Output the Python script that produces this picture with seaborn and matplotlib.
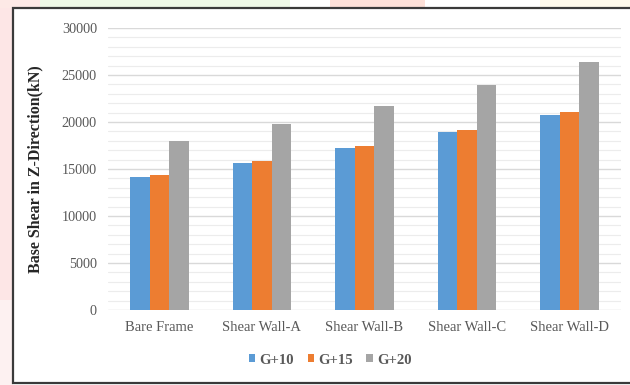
import numpy as np
import pandas as pd
import matplotlib
matplotlib.use("Agg")
import matplotlib.pyplot as plt
from matplotlib.patches import Rectangle
from matplotlib.ticker import MultipleLocator
import seaborn as sns

# Base shear values (kN) per structural configuration and building height
categories = ["Bare Frame", "Shear Wall-A", "Shear Wall-B", "Shear Wall-C", "Shear Wall-D"]
series_names = ["G+10", "G+15", "G+20"]
g10 = [14200, 15600, 17200, 18900, 20700]
g15 = [14400, 15800, 17400, 19100, 21100]
g20 = [18000, 19800, 21700, 23900, 26400]
y_ticks = [0, 5000, 10000, 15000, 20000, 25000, 30000]

colors = ["#5b9bd5", "#ed7d31", "#a5a5a5"]

df = pd.DataFrame({
    "Model": categories * 3,
    "Storey": [s for s in series_names for _ in categories],
    "Shear": g10 + g15 + g20,
})

sns.set_theme(style="white")
plt.rcParams["font.family"] = ["Liberation Serif", "DejaVu Serif"]

W, H = 630, 385
fig = plt.figure(figsize=(W / 100, H / 100), dpi=100)
fig.patch.set_facecolor("white")

def fx(px):
    return px / W

def fy(py):
    return 1 - py / H

# page background around the framed chart
bg = [
    (0, 0, 13, 300, "#fde6e6"),
    (0, 300, 13, 85, "#fdf1f1"),
    (0, 0, 40, 8, "#fde9e6"),
    (40, 0, 250, 8, "#eef8e6"),
    (330, 0, 95, 8, "#fde0d8"),
    (540, 0, 90, 8, "#fdf8ea"),
]
for x0, y0, w, h, c in bg:
    fig.patches.append(Rectangle((fx(x0), fy(y0 + h)), w / W, h / H,
                                 transform=fig.transFigure, facecolor=c,
                                 edgecolor="none", zorder=-5))

# chart frame
fig.patches.append(Rectangle((fx(13), fy(383)), 1.02 - fx(13), (383 - 8) / H,
                             transform=fig.transFigure, facecolor="white",
                             edgecolor="#3a3a3a", linewidth=1.6, zorder=-4))

ax = fig.add_axes([fx(108), fy(310), fx(621) - fx(108), (310 - 28) / H])
ax.set_facecolor("none")

sns.barplot(data=df, x="Model", y="Shear", hue="Storey", palette=colors,
            width=0.57, saturation=1, linewidth=0, ax=ax, legend=True, zorder=3)

ax.set_ylim(0, 30000)
ax.set_xlim(-0.5, len(categories) - 0.5)
ax.set_yticks(y_ticks)
ax.set_yticklabels([str(v) for v in y_ticks])
ax.yaxis.set_minor_locator(MultipleLocator(1000))
ax.grid(axis="y", which="major", color="#d9d9d9", linewidth=1.0, zorder=0)
ax.grid(axis="y", which="minor", color="#ececec", linewidth=0.8, zorder=0)
ax.set_axisbelow(True)
for s in ax.spines.values():
    s.set_visible(False)

ax.tick_params(axis="y", which="both", length=0, pad=8, labelsize=10.3, labelcolor="#595959")
ax.tick_params(axis="x", length=0, pad=8, labelsize=10.5, labelcolor="#595959")
ax.set_xlabel("")
ax.set_ylabel("Base Shear in Z-Direction(kN)", fontsize=11.5, fontweight="bold", color="#262626")
ax.yaxis.set_label_coords((43 - 108) / (621 - 108), 0.5)

handles, labels = ax.get_legend_handles_labels()
ax.legend_.remove()
leg = fig.legend(handles, labels, loc="center", bbox_to_anchor=(fx(330), fy(360)),
                 ncol=3, frameon=False, handlelength=0.45, handleheight=0.45,
                 handletextpad=0.25, columnspacing=0.95,
                 prop={"size": 10.6, "weight": "bold"})
for t in leg.get_texts():
    t.set_color("#595959")

fig.savefig("out.png", dpi=100, facecolor=fig.get_facecolor())
